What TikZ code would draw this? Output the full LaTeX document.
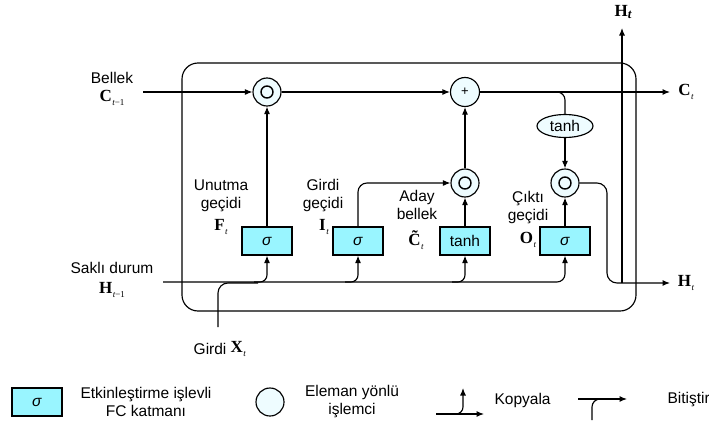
\documentclass[tikz,border=0pt]{standalone}
\usepackage{fontspec}
\setmainfont{Liberation Sans}
\newfontfamily\serifb{Liberation Serif}
\usetikzlibrary{arrows.meta,shapes.geometric}
\definecolor{fccol}{RGB}{153,245,255}
\definecolor{opcol}{RGB}{238,252,255}
\newcommand\vsym[2]{{\serifb\bfseries #1}\kern0.6pt\raisebox{-4pt}{\serifb\fontsize{9}{9}\selectfont\itshape #2}}
\newcommand\tminus{t\upshape−1}
\begin{document}
\begin{tikzpicture}[x=1pt,y=-1pt, line width=1.15pt,
  >={Latex[length=7.5pt,width=6pt]},
  cellbox/.style={draw, rounded corners=16},
  fc/.style={draw, fill=fccol, minimum width=50pt, minimum height=28pt, inner sep=0pt, font=\fontsize{15.5}{17}\selectfont},
  opnode/.style={circle, draw, fill=opcol, minimum size=28pt, inner sep=0pt},
  had/.style={opnode, path picture={
      \draw[line width=1.4pt] (path picture bounding box.center) circle (6pt);
      \fill (path picture bounding box.center) circle (2.2pt);}},
  tanhell/.style={ellipse, draw, fill=opcol, minimum width=56pt, minimum height=23pt, inner sep=0pt, font=\fontsize{15.5}{17}\selectfont},
  lbl/.style={font=\fontsize{15.5}{18}\selectfont, align=center, inner sep=0pt},
  sym/.style={font=\fontsize{17}{18}\selectfont, inner sep=0pt}
]
\useasboundingbox (0,0) rectangle (709,423);
\draw[cellbox] (182,63) rectangle (636,311);

% operator nodes
\node[had] (m1) at (267,92) {};
\node[opnode, minimum size=29pt] (plus) at (465,92) {\fontsize{13}{13}\selectfont +};
\node[had] (m2) at (465,183) {};
\node[had] (m3) at (565,183) {};
\node[tanhell] (th) at (565,126) {tanh};

% layers
\node[fc] (bF) at (267,241) {\textit{σ}};
\node[fc] (bI) at (358,241) {\textit{σ}};
\node[fc] (bC) at (465,241) {tanh};
\node[fc] (bO) at (565,241) {\textit{σ}};

% coordinates
\coordinate (cin) at (143,92);
\coordinate (cout) at (670,92);
\coordinate (cbr) at (546,92);
\coordinate (hin) at (163,282);
\coordinate (xin) at (218,327);
\coordinate (xj) at (258,283);
\coordinate (jF) at (254,282);
\coordinate (jI) at (345,282);
\coordinate (jC) at (452,282);
\coordinate (hc) at (607,283);
\coordinate (hout) at (670,283);
\coordinate (hupb) at (622,283);
\coordinate (hup) at (622,28);

% memory line
\draw[->] (cin) -- (m1);
\draw[->] (m1) -- (plus);
\draw[->] (plus) -- (cout);
\draw[rounded corners=8] (cbr) -| (th.north);
\draw[->] (th) -- (m3);

% gates
\draw[->] (bF) -- (m1);
\draw[->] (bC) -- (m2);
\draw[->] (m2) -- (plus);
\draw[->, rounded corners=9] (bI.north) |- (m2);
\draw[->] (bO) -- (m3);

% output
\draw[->, rounded corners=10] (m3) -| (hc) -- (hout);
\draw[->] (hupb) -- (hup);

% hidden state and input
\draw[->, rounded corners=8] (hin) -| (bO.south);
\draw[rounded corners=10] (xin) |- (xj);
\draw[->, rounded corners=7] (jF) -| (bF.south);
\draw[->, rounded corners=7] (jI) -| (bI.south);
\draw[->, rounded corners=7] (jC) -| (bC.south);

% labels
\node[lbl] (lbel) at (112,78) {Bellek};
\node[sym] (lc0) at (112,98) {\vsym{C}{\tminus}};
\node[lbl] (lsak) at (112,268) {Saklı durum};
\node[sym] (lh0) at (112,290) {\vsym{H}{\tminus}};
\node[lbl] (lunu) at (221,196) {Unutma\\geçidi};
\node[sym] (lf) at (221,227) {\vsym{F}{t}};
\node[lbl] (lgir) at (323,196) {Girdi\\geçidi};
\node[sym] (li) at (324,227) {\vsym{I}{t}};
\node[lbl] (lada) at (417,205) {Aday\\bellek};
\node[sym] (lct) at (416,240) {\vsym{\~{C}}{t}};
\node[lbl] (lcik) at (528,208) {Çıktı\\geçidi};
\node[sym] (lo) at (528,240) {\vsym{O}{t}};
\node[sym] (lcout) at (686,92) {\vsym{C}{t}};
\node[sym] (lhout) at (686,283) {\vsym{H}{t}};
\node[sym] (lhup) at (623,12) {{\serifb\bfseries H\raisebox{-2pt}{\fontsize{13}{13}\selectfont\itshape t}}};
\node[lbl, anchor=east] (lx1) at (227,349) {Girdi};
\node[sym, anchor=west] (lx2) at (230,349) {\vsym{X}{t}};

% legend
\node[fc] (lg1) at (37,402) {\textit{σ}};
\node[lbl] (lgt1) at (146,402) {Etkinleştirme işlevli\\FC katmanı};
\node[opnode] (lg2) at (270,402) {};
\node[lbl] (lgt2) at (352,402) {Eleman yönlü\\işlemci};
\coordinate (k1) at (436,414);
\coordinate (k2) at (484,414);
\coordinate (k3) at (452,414);
\coordinate (k4) at (463,388);
\draw[->] (k1) -- (k2);
\draw[->, rounded corners=7] (k3) -| (k4);
\node[lbl, anchor=west] (lgt3) at (494,400) {Kopyala};
\coordinate (b1) at (578,399);
\coordinate (b2) at (627,399);
\coordinate (b3) at (592,420);
\coordinate (b4) at (606,399);
\draw[->] (b1) -- (b2);
\draw[rounded corners=8] (b3) |- (b4);
\node[lbl, anchor=west] (lgt4) at (667,400) {Bitiştir};
\end{tikzpicture}
\end{document}
